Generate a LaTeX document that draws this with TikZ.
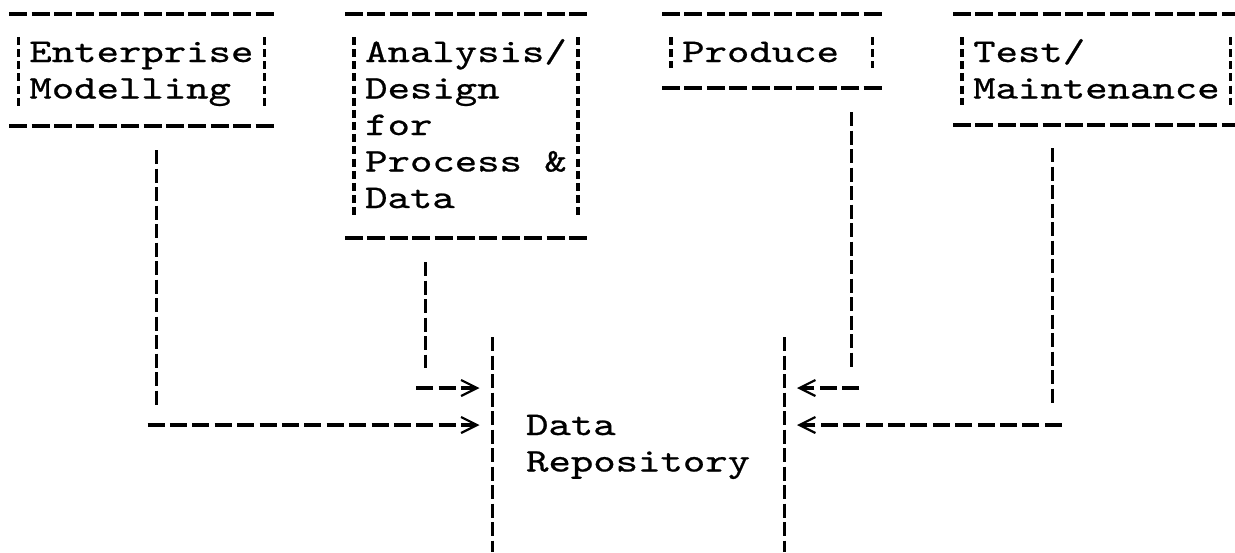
\documentclass[tikz,border=0pt]{standalone}
\usepackage{fontspec}
\newfontfamily\twfont{lmmono10-regular.otf}[FakeStretch=1.293,FakeBold=0.7]
\usetikzlibrary{arrows.meta,calc}
\begin{document}
\begin{tikzpicture}[x=0.5pt,y=-0.5pt,
  frame/.style={draw=none, inner sep=0pt, outer sep=0pt},
  txt/.style={inner sep=0pt, outer sep=0pt, anchor=base west, font=\twfont\fontsize{16.5pt}{18.25pt}\selectfont},
  hdash/.style={line width=1.7pt, dash pattern=on 9pt off 2.2pt},
  sidebar/.style={line width=1.6pt, dash pattern=on 4pt off 2.08pt},
  vline/.style={line width=1.5pt, dash pattern=on 7pt off 2.25pt},
  hline/.style={line width=1.6pt, dash pattern=on 8.5pt off 2.7pt},
  typearrow/.style={-{Straight Barb[length=8pt,width=8pt,line width=1.1pt]}}
]
\fill[white] (0,0) rectangle (1235,552);
\useasboundingbox (0,0) rectangle (1235,552);

% box frames
\node[frame, minimum width=134.4pt, minimum height=56pt] (b1) at (141.4,70) {};
\node[frame, minimum width=123.2pt, minimum height=112pt] (b2) at (466,126) {};
\node[frame, minimum width=112pt, minimum height=37pt] (b3) at (771.8,51) {};
\node[frame, minimum width=145.6pt, minimum height=55.5pt] (b4) at (1096.4,69.5) {};
\node[frame, minimum width=145.75pt, minimum height=107.5pt] (repo) at (638.25,444.5) {};

\foreach \b in {b1,b2,b3,b4} {
  \draw[hdash] ([xshift=1.1pt]\b.north west) -- ([xshift=-1.1pt]\b.north east);
  \draw[hdash] ([xshift=1.1pt]\b.south west) -- ([xshift=-1.1pt]\b.south east);
  \draw[sidebar] ([xshift=5.6pt,yshift=-11.5pt]\b.north west) -- ([xshift=5.6pt,yshift=10pt]\b.south west);
  \draw[sidebar] ([xshift=-5.6pt,yshift=-11.5pt]\b.north east) -- ([xshift=-5.6pt,yshift=10pt]\b.south east);
}
\draw[vline] (repo.north west) -- (repo.south west);
\draw[vline] (repo.north east) -- (repo.south east);

% texts
\node[txt] (t1) at (29.4,62) {\vtop{\hbox{Enterprise}\hbox{Modelling}}};
\node[txt] (t2) at (365.2,62) {\vtop{\hbox{Analysis/}\hbox{Design}\hbox{for}\hbox{Process \&}\hbox{Data}}};
\node[txt] (t3) at (682.2,62) {Produce};
\node[txt] (t4) at (973.2,62) {\vtop{\hbox{Test/}\hbox{Maintenance}}};
\node[txt] (t5) at (526.1,435) {\vtop{\hbox{Data}\hbox{Repository}}};

% connectors
\coordinate (eBot) at (156.5,405);
\coordinate (eH) at (147.5,425);
\draw[vline] ($(b1.south -| eBot)+(0,24)$) -- (eBot);
\draw[hline,typearrow] (eH) -- ($(eH -| repo.west)+(-13,0)$);

\coordinate (aBot) at (425.3,368);
\coordinate (aH) at (416.3,388);
\draw[vline] ($(b2.south -| aBot)+(0,24)$) -- (aBot);
\draw[hline,typearrow] (aH) -- ($(aH -| repo.west)+(-13,0)$);

\coordinate (pBot) at (851.2,368);
\coordinate (pH) at (859.2,388);
\draw[vline] ($(b3.south -| pBot)+(0,24)$) -- (pBot);
\draw[hline,typearrow] (pH) -- ($(pH -| repo.east)+(13,0)$);

\coordinate (tBot) at (1052.8,405);
\coordinate (tH) at (1061.8,425);
\draw[vline] ($(b4.south -| tBot)+(0,23)$) -- (tBot);
\draw[hline,typearrow] (tH) -- ($(tH -| repo.east)+(13,0)$);
\end{tikzpicture}
\end{document}
